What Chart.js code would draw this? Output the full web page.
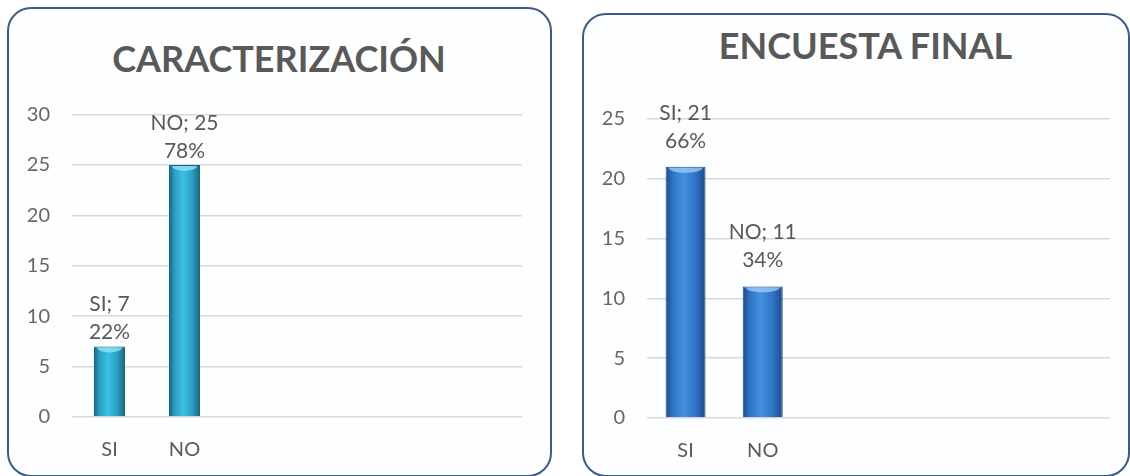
<!DOCTYPE html>
<html>
<head>
<meta charset="utf-8">
<script src="https://cdn.jsdelivr.net/npm/chart.js@4.4.0/dist/chart.umd.min.js"></script>
<style>
html,body{margin:0;padding:0;background:#fff;overflow:hidden}
body{width:1130px;height:476px;position:relative;font-family:Lato,sans-serif}
.panel{position:absolute;box-sizing:border-box;border:2px solid #3b5c88;border-radius:24px;background:#fdfeff}
.wrap{position:absolute;top:0;width:565px;height:476px}
.title{position:absolute;margin:0;text-align:center;font:bold 36px/42px Lato,"Open Sans",sans-serif;color:#595959;white-space:nowrap}
</style>
</head>
<body>
<div class="panel" style="left:7px;top:7px;width:545px;height:470px"></div>
<div class="panel" style="left:582px;top:13px;width:548px;height:464px"></div>
<h2 class="title" style="left:0;top:37px;width:558px">CARACTERIZACIÓN</h2>
<h2 class="title" style="left:600px;top:24px;width:531px">ENCUESTA FINAL</h2>
<div class="wrap" style="left:0"><canvas id="chart-left" width="565" height="476"></canvas></div>
<div class="wrap" style="left:565px"><canvas id="chart-right" width="565" height="476"></canvas></div>

<script>
// ===== Data =====
const categories = ['SI', 'NO'];
const emptySlots = ['', '', '', ''];          // Excel leaves room for 4 more columns
const caracterizacion = [7, 25];
const encuestaFinal = [21, 11];
const ticksLeft = [0, 5, 10, 15, 20, 25, 30];
const ticksRight = [0, 5, 10, 15, 20, 25];

const GRAY = '#595959';
const FONT = 'Lato, "Open Sans", sans-serif';

// ===== Helpers =====
const sum = a => a.reduce((s, v) => s + (v || 0), 0);

// vertical "cylinder" shading, computed from the category scale
function cylinder(dark, mid, light){
  return (ctx) => {
    const chart = ctx.chart, sx = chart.scales.x;
    if (!sx || !chart.chartArea) return mid;
    const ds = chart.data.datasets[ctx.datasetIndex];
    const slot = sx.width / chart.data.labels.length;
    const w = slot * ds.barPercentage * ds.categoryPercentage;
    const x = sx.getPixelForValue(ctx.dataIndex);
    const g = chart.ctx.createLinearGradient(x - w / 2, 0, x + w / 2, 0);
    g.addColorStop(0, dark);
    g.addColorStop(0.18, mid);
    g.addColorStop(0.45, light);
    g.addColorStop(0.75, mid);
    g.addColorStop(1, dark);
    return g;
  };
}

// labels "SI; 7" / "22%" above each bar + a light bevel on top
const barLabels = {
  id: 'barLabels',
  afterDatasetsDraw(chart, args, opts){
    const c = chart.ctx;
    const vals = chart.data.datasets[0].data;
    const total = sum(vals);
    chart.getDatasetMeta(0).data.forEach((bar, i) => {
      if (vals[i] == null) return;
      const top = bar.y, half = bar.width / 2;
      // bevel
      c.save();
      c.beginPath();
      c.ellipse(bar.x, top + 1, half - 3, 5, 0, 0, Math.PI);
      c.fillStyle = opts.cap;
      c.fill();
      c.restore();
      // text
      c.save();
      c.font = `${opts.size}px ${FONT}`;
      c.fillStyle = GRAY;
      c.textAlign = 'center';
      c.textBaseline = 'middle';
      c.fillText(`${chart.data.labels[i]}; ${vals[i]}`, bar.x, top - opts.gap - opts.lineGap);
      c.fillText(`${Math.round(vals[i] / total * 100)}%`, bar.x, top - opts.gap);
      c.restore();
    });
  }
};

function makeChart(id, cfg){
  return new Chart(document.getElementById(id), {
    type: 'bar',
    data: {
      labels: [...categories, ...emptySlots],
      datasets: [{
        data: cfg.values,
        backgroundColor: cylinder(...cfg.colors),
        borderColor: cfg.colors[0],
        borderWidth: 1,
        borderSkipped: 'bottom',
        barPercentage: cfg.barPct,
        categoryPercentage: 1
      }]
    },
    options: {
      responsive: false,
      animation: false,
      layout: { padding: cfg.pad },
      plugins: {
        legend: { display: false },
        tooltip: { enabled: false },
        title: { display: false },
        barLabels: { size: 21, gap: cfg.labelGap, lineGap: 28, cap: cfg.cap }
      },
      scales: {
        x: {
          grid: { display: false },
          border: { display: false },
          ticks: { color: GRAY, padding: 13, font: { family: FONT, size: 20 } },
          afterFit: s => { s.height = 52; }
        },
        y: {
          min: 0, max: cfg.ticks[cfg.ticks.length - 1],
          afterBuildTicks: s => { s.ticks = cfg.ticks.map(v => ({ value: v })); },
          grid: { color: '#d9d9d9', lineWidth: 1.6, drawTicks: false },
          border: { display: false },
          ticks: { color: '#666', padding: 22, font: { family: FONT, size: 20 } },
          afterFit: s => { s.width = 48; }
        }
      }
    },
    plugins: [barLabels]
  });
}

// ===== Charts =====
makeChart('chart-left', {
  values: caracterizacion,
  ticks: ticksLeft,
  colors: ['#17657d', '#2a9fc2', '#3cc0e2'],
  cap: 'rgba(150,230,250,0.75)',
  barPct: 0.413,
  labelGap: 14,
  pad: { left: 24, right: 43, top: 114.6, bottom: 7 }
});

makeChart('chart-right', {
  values: encuestaFinal,
  ticks: ticksRight,
  colors: ['#1c4a88', '#2f74c6', '#4590e0'],
  cap: 'rgba(160,205,250,0.75)',
  barPct: 0.518,
  labelGap: 26,
  pad: { left: 34, right: 20, top: 119, bottom: 6 }
});
</script>
</body>
</html>
